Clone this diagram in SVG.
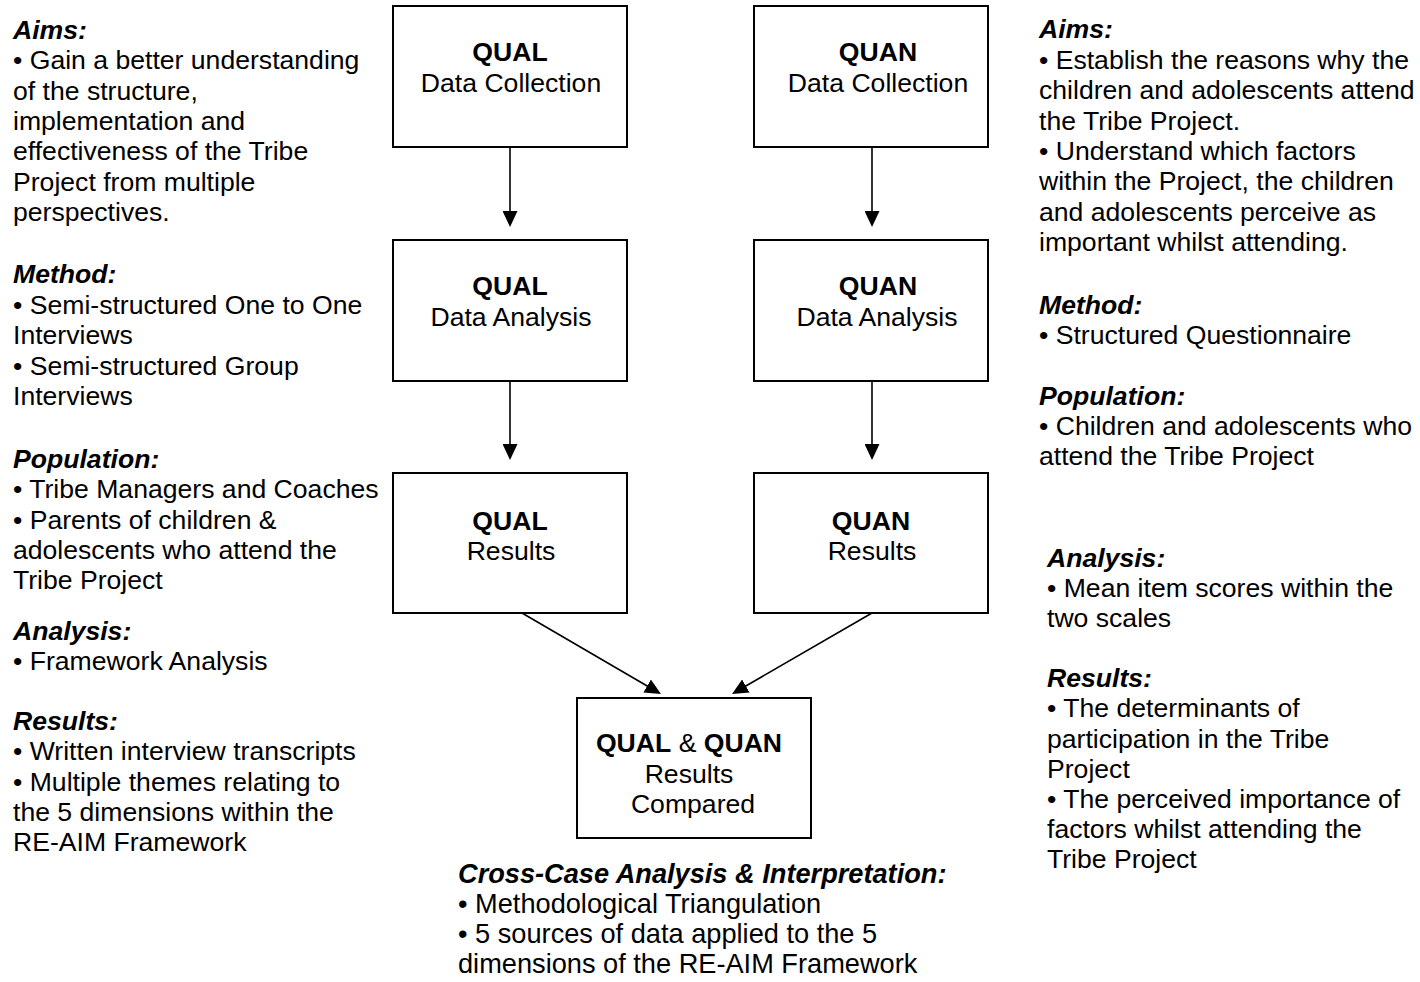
<svg xmlns="http://www.w3.org/2000/svg" width="1420" height="982" viewBox="0 0 1420 982">
<defs>
<style>
text{font-family:"Liberation Sans",Arial,Helvetica,sans-serif;font-size:26.6px;fill:#000}
.h{font-weight:bold;font-style:italic}
.b{font-weight:bold}
.c{text-anchor:middle}
.big{font-size:27.2px}
.box{fill:#fff;stroke:#000;stroke-width:2}
.conn{stroke:#000;stroke-width:1.6;fill:none;marker-end:url(#arr)}
</style>
<marker id="arr" viewBox="0 0 16 15" refX="12" refY="7.5" markerWidth="16" markerHeight="15" markerUnits="userSpaceOnUse" orient="auto">
<path d="M0,0 L16,7.5 L0,15 z" fill="#000"/>
</marker>
</defs>
<rect width="1420" height="982" fill="#fff"/>

<g id="connectors">
<line class="conn" x1="510" y1="147" x2="510" y2="223"/>
<line class="conn" x1="510" y1="381" x2="510" y2="456"/>
<line class="conn" x1="872" y1="147" x2="872" y2="223"/>
<line class="conn" x1="872" y1="381" x2="872" y2="456"/>
<line class="conn" x1="522" y1="613" x2="657.5" y2="692"/>
<line class="conn" x1="872" y1="613" x2="735.5" y2="692"/>
</g>

<g id="qual-collection">
<rect class="box" x="393" y="6" width="234" height="141"/>
<text class="c b" x="510" y="61">QUAL</text>
<text class="c" x="511" y="92">Data Collection</text>
</g>
<g id="quan-collection">
<rect class="box" x="754" y="6" width="234" height="141"/>
<text class="c b" x="878" y="61">QUAN</text>
<text class="c" x="878" y="92">Data Collection</text>
</g>
<g id="qual-analysis">
<rect class="box" x="393" y="240" width="234" height="141"/>
<text class="c b" x="510" y="295">QUAL</text>
<text class="c" x="511" y="326">Data Analysis</text>
</g>
<g id="quan-analysis">
<rect class="box" x="754" y="240" width="234" height="141"/>
<text class="c b" x="878" y="295">QUAN</text>
<text class="c" x="877" y="326">Data Analysis</text>
</g>
<g id="qual-results">
<rect class="box" x="393" y="473" width="234" height="140"/>
<text class="c b" x="510" y="530">QUAL</text>
<text class="c" x="511" y="560">Results</text>
</g>
<g id="quan-results">
<rect class="box" x="754" y="473" width="234" height="140"/>
<text class="c b" x="871" y="530">QUAN</text>
<text class="c" x="872" y="560">Results</text>
</g>
<g id="compared">
<rect class="box" x="577" y="698" width="234" height="140"/>
<text class="c" x="689" y="752"><tspan class="b">QUAL</tspan> &amp; <tspan class="b">QUAN</tspan></text>
<text class="c" x="689" y="783">Results</text>
<text class="c" x="693" y="813">Compared</text>
</g>

<g id="qual-notes">
<text class="h" x="13" y="39">Aims:</text>
<text x="13" y="69">• Gain a better understanding</text>
<text x="13" y="99.5">of the structure,</text>
<text x="13" y="130">implementation and</text>
<text x="13" y="160">effectiveness of the Tribe</text>
<text x="13" y="190.5">Project from multiple</text>
<text x="13" y="221">perspectives.</text>
<text class="h" x="13" y="283">Method:</text>
<text x="13" y="314">• Semi-structured One to One</text>
<text x="13" y="344">Interviews</text>
<text x="13" y="375">• Semi-structured Group</text>
<text x="13" y="405">Interviews</text>
<text class="h" x="13" y="468">Population:</text>
<text x="13" y="498">• Tribe Managers and Coaches</text>
<text x="13" y="528.5">• Parents of children &amp;</text>
<text x="13" y="559">adolescents who attend the</text>
<text x="13" y="589">Tribe Project</text>
<text class="h" x="13" y="640">Analysis:</text>
<text x="13" y="670">• Framework Analysis</text>
<text class="h" x="13" y="730">Results:</text>
<text x="13" y="760">• Written interview transcripts</text>
<text x="13" y="791">• Multiple themes relating to</text>
<text x="13" y="821">the 5 dimensions within the</text>
<text x="13" y="851">RE-AIM Framework</text>
</g>

<g id="quan-notes">
<text class="h" x="1039" y="38">Aims:</text>
<text x="1039" y="69">• Establish the reasons why the</text>
<text x="1039" y="99">children and adolescents attend</text>
<text x="1039" y="129.5">the Tribe Project.</text>
<text x="1039" y="160">• Understand which factors</text>
<text x="1039" y="190">within the Project, the children</text>
<text x="1039" y="220.5">and adolescents perceive as</text>
<text x="1039" y="251">important whilst attending.</text>
<text class="h" x="1039" y="314">Method:</text>
<text x="1039" y="344">• Structured Questionnaire</text>
<text class="h" x="1039" y="405">Population:</text>
<text x="1039" y="435">• Children and adolescents who</text>
<text x="1039" y="465">attend the Tribe Project</text>
<text class="h" x="1047" y="567">Analysis:</text>
<text x="1047" y="597">• Mean item scores within the</text>
<text x="1047" y="627">two scales</text>
<text class="h" x="1047" y="687">Results:</text>
<text x="1047" y="717">• The determinants of</text>
<text x="1047" y="747.5">participation in the Tribe</text>
<text x="1047" y="778">Project</text>
<text x="1047" y="808">• The perceived importance of</text>
<text x="1047" y="838">factors whilst attending the</text>
<text x="1047" y="868">Tribe Project</text>
</g>

<g id="cross-case-notes">
<text class="h big" x="458" y="883">Cross-Case Analysis &amp; Interpretation:</text>
<text class="big" x="458" y="913">• Methodological Triangulation</text>
<text class="big" x="458" y="943">• 5 sources of data applied to the 5</text>
<text class="big" x="458" y="973">dimensions of the RE-AIM Framework</text>
</g>
</svg>
